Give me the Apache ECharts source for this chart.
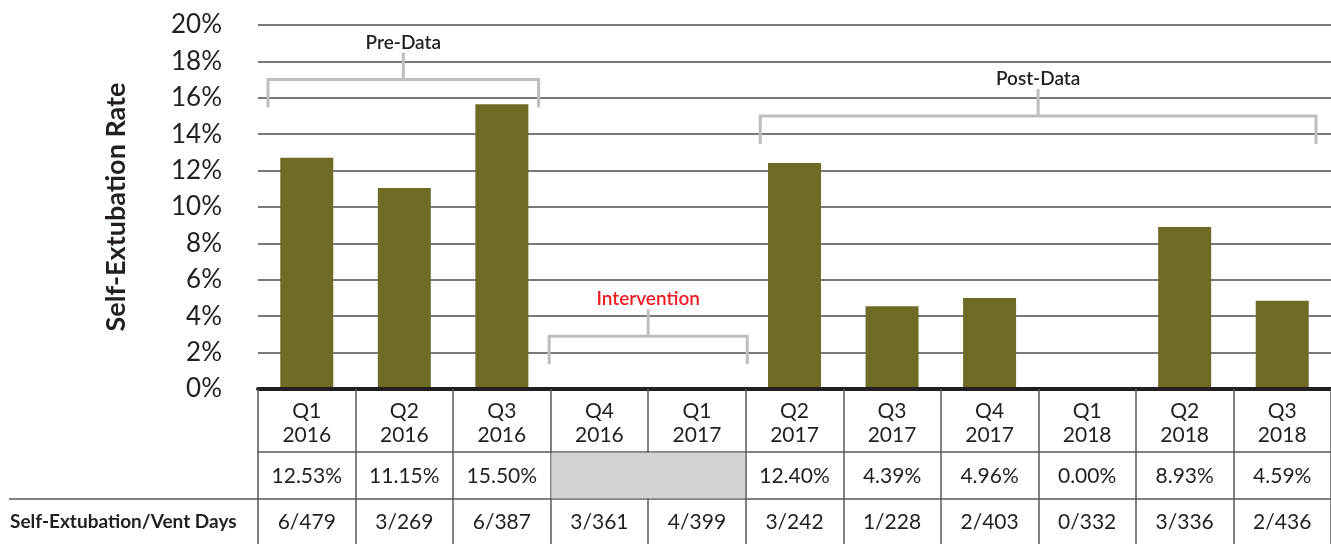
<!DOCTYPE html>
<html>
<head>
<meta charset="utf-8">
<title>Self-Extubation Rate</title>
<script src="https://cdn.jsdelivr.net/npm/echarts/dist/echarts.min.js"></script>
<style>
  html, body { margin: 0; padding: 0; background: #fff; }
  #chart { width: 1331px; height: 544px; }
</style>
</head>
<body>
<div id="chart"></div>
<script>
// categories
var quarters = ['Q1\n2016', 'Q2\n2016', 'Q3\n2016', 'Q4\n2016', 'Q1\n2017', 'Q2\n2017',
                'Q3\n2017', 'Q4\n2017', 'Q1\n2018', 'Q2\n2018', 'Q3\n2018'];
// bar heights as drawn (%), no bars during intervention
var barRates = [12.7, 11.05, 15.65, null, null, 12.42, 4.55, 5.0, 0, 8.9, 4.85];
// table rows
var rateLabels = ['12.53%', '11.15%', '15.50%', '', '', '12.40%', '4.39%', '4.96%', '0.00%', '8.93%', '4.59%'];
var ventDays = ['6/479', '3/269', '6/387', '3/361', '4/399', '3/242', '1/228', '2/403', '0/332', '3/336', '2/436'];
// y axis ticks
var yMin = 0, yMax = 20, yStep = 2;
// brackets: [first category, last category, level %]
var bracketNames = ['Pre-Data', 'Intervention', 'Post-Data'];
var bracketSpans = [[0, 2, 17], [3, 4, 2.9], [5, 10, 15]];

var FONT = 'Lato';
var INK = '#231f20';
var GRID_LEFT = 258, GRID_TOP = 25, GRID_BOTTOM = 155;
var ROW1 = 63, ROW2 = 110;   // offsets of table lines under the axis
var bracketColor = '#bcbec0';
var bracketTextColor = {'Pre-Data': INK, 'Intervention': '#ed1c24', 'Post-Data': INK};
var bracketInset = {'Pre-Data': [10, 12], 'Intervention': [-1.5, -1.5], 'Post-Data': [14.5, 15]};

var grayCells = [];
for (var i = 0; i < rateLabels.length; i++) {
    if (rateLabels[i] === '') grayCells.push([i, 0]);
}

function renderBracket(params, api) {
    var name = bracketNames[params.dataIndex];
    var a = api.coord([api.value(0), api.value(2)]);
    var b = api.coord([api.value(1), api.value(2)]);
    var band = api.size([1, 0])[0];
    var ins = bracketInset[name];
    var x1 = a[0] - band / 2 + ins[0];
    var x2 = b[0] + band / 2 - ins[1];
    var y = a[1];
    var xm = (x1 + x2) / 2;
    var st = {stroke: bracketColor, lineWidth: 3, fill: null};
    return {
        type: 'group',
        children: [
            {type: 'polyline', shape: {points: [[x1, y + 28], [x1, y], [x2, y], [x2, y + 28]]}, style: st},
            {type: 'line', shape: {x1: xm, y1: y, x2: xm, y2: y - 27}, style: st},
            {type: 'text', x: xm, y: y - 37, style: {
                text: name, fill: bracketTextColor[name], font: '600 19px ' + FONT,
                align: 'center', verticalAlign: 'middle'
            }}
        ]
    };
}

// gray cell for quarters without a rate; spills over the shared border when the next one is empty too
function renderGray(params, api) {
    var idx = api.value(0);
    var p = api.coord([idx, 0]);
    var band = api.size([1, 0])[0];
    var left = p[0] - band / 2 + 0.75;
    var right = p[0] + band / 2 - 0.75;
    if (rateLabels[idx + 1] === '') right += 4;
    return {
        type: 'rect',
        shape: {x: left, y: p[1] + ROW1 + 0.75, width: right - left, height: ROW2 - ROW1 - 1.5},
        style: {fill: '#d1d3d4'}
    };
}

var chart = echarts.init(document.getElementById('chart'));
var options = {
    animation: false,
    textStyle: {fontFamily: FONT, color: INK},
    grid: {left: GRID_LEFT, right: 0, top: GRID_TOP, bottom: GRID_BOTTOM},
    xAxis: [
        {
            type: 'category', data: quarters, position: 'bottom',
            axisLine: {lineStyle: {color: INK, width: 4}},
            axisTick: {show: true, interval: 0, length: 155, lineStyle: {color: '#58595b', width: 1.5}},
            axisLabel: {interval: 0, margin: 10, fontSize: 21, lineHeight: 24, color: INK, fontFamily: FONT},
            z: 5
        },
        {
            type: 'category', data: quarters, position: 'bottom', offset: ROW1,
            axisLine: {lineStyle: {color: '#58595b', width: 1.5}},
            axisTick: {show: false},
            axisLabel: {interval: 0, margin: 14, fontSize: 21, color: INK, fontFamily: FONT,
                formatter: function (v, i) { return rateLabels[i]; }}
        },
        {
            type: 'category', data: quarters, position: 'bottom', offset: ROW2,
            axisLine: {lineStyle: {color: '#58595b', width: 1.5}},
            axisTick: {show: false},
            axisLabel: {interval: 0, margin: 13, fontSize: 21, color: INK, fontFamily: FONT,
                formatter: function (v, i) { return ventDays[i]; }}
        }
    ],
    yAxis: {
        type: 'value', min: yMin, max: yMax, interval: yStep,
        name: 'Self-Extubation Rate', nameLocation: 'middle', nameGap: 128,
        nameTextStyle: {fontSize: 27, fontWeight: 'bold', color: INK, fontFamily: FONT},
        axisLine: {show: false},
        axisTick: {show: false},
        axisLabel: {formatter: '{value}%', fontSize: 26, margin: 36, color: INK, fontFamily: FONT},
        splitLine: {lineStyle: {color: '#4d4d4d', width: 1.5}}
    },
    graphic: [
        {type: 'line', shape: {x1: 9, y1: 544 - GRID_BOTTOM + ROW2, x2: GRID_LEFT, y2: 544 - GRID_BOTTOM + ROW2},
            style: {stroke: '#58595b', lineWidth: 1.5}},
        {type: 'text', x: 10, y: 544 - GRID_BOTTOM + ROW2 + 23, style: {
            text: 'Self-Extubation/Vent Days', font: 'bold 19px ' + FONT, fill: INK,
            align: 'left', verticalAlign: 'middle'}}
    ],
    series: [
        {
            type: 'bar', data: barRates, barWidth: 53,
            itemStyle: {color: '#6d6b24'}
        },
        {
            type: 'custom', data: grayCells, renderItem: renderGray,
            encode: {x: 0, y: 1}, clip: false, z: 6, silent: true
        },
        {
            type: 'custom', data: bracketSpans, renderItem: renderBracket,
            encode: {x: [0, 1], y: 2}, clip: false, z: 4, silent: true
        }
    ]
};
chart.setOption(options);
</script>
</body>
</html>
